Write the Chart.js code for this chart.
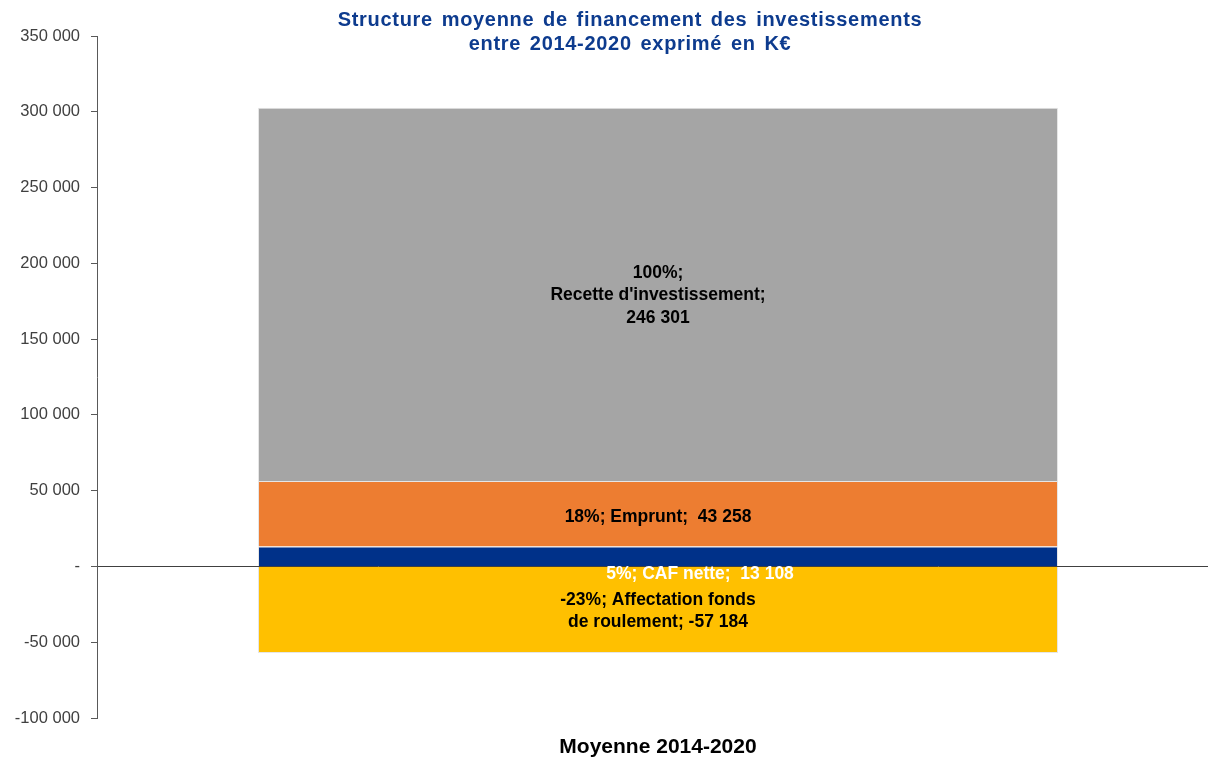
<!DOCTYPE html>
<html>
<head>
<meta charset="utf-8">
<script src="https://cdn.jsdelivr.net/npm/chart.js"></script>
<style>
  html, body { margin: 0; padding: 0; background: #fff; overflow: hidden; }
  /* plot runs a little past the right edge of the window */
  #wrap { width: 1219px; height: 757px; }
</style>
</head>
<body>
<div id="wrap"><canvas id="financement"></canvas></div>
<script>
// data
const categories = ['Moyenne 2014-2020'];
const cafNette = [13108];
const emprunt = [43258];
const recetteInvest = [246301];
const affectationFdr = [-57184];
const yMin = -100000, yMax = 350000, yStep = 50000;

const titleLines = ['Structure moyenne de financement des investissements', 'entre 2014-2020 exprimé en K€'];

// 246301 -> "246 301"
const fmt = v => (v < 0 ? '-' : '') + Math.abs(Math.round(v)).toString().replace(/\B(?=(\d{3})+(?!\d))/g, ' ');
const pct = v => Math.round(v / recetteInvest[0] * 100) + '%';

const FONT = '"Liberation Sans", Arial, sans-serif';

// label text + placement for each stacked segment
const segLabels = [
  { lines: v => [pct(v) + '; CAF nette;  ' + fmt(v)], color: '#ffffff', dx: 42, dy: 18 },
  { lines: v => [pct(v) + '; Emprunt;  ' + fmt(v)], color: '#000000', dx: 0, dy: 3 },
  { lines: v => [pct(v) + ';', "Recette d'investissement;", fmt(v)], color: '#000000', dx: 0, dy: 1 },
  { lines: v => [pct(v) + '; Affectation fonds', 'de roulement; ' + fmt(v)], color: '#000000', dx: 0, dy: 1 }
];

const barLabels = {
  id: 'barLabels',
  afterDatasetsDraw(chart) {
    const ctx = chart.ctx;
    ctx.save();
    ctx.font = 'bold 17.5px ' + FONT;
    ctx.textAlign = 'center';
    ctx.textBaseline = 'middle';
    chart.data.datasets.forEach((ds, i) => {
      const bar = chart.getDatasetMeta(i).data[0];
      const cfg = segLabels[i];
      const lines = cfg.lines(ds.data[0]);
      const lh = 22.5;
      const cy = (bar.y + bar.base) / 2 + cfg.dy - (lines.length - 1) * lh / 2;
      ctx.fillStyle = cfg.color;
      lines.forEach((t, k) => ctx.fillText(t, bar.x + cfg.dx, cy + k * lh));
    });
    ctx.restore();
  }
};

// title overlaps the top of the plot area, so it is drawn by hand
const topTitle = {
  id: 'topTitle',
  afterDraw(chart) {
    const ctx = chart.ctx;
    ctx.save();
    ctx.font = 'bold 20px ' + FONT;
    ctx.letterSpacing = '0.7px';
    ctx.wordSpacing = '2.5px';
    ctx.fillStyle = '#0D3B8E';
    ctx.textAlign = 'center';
    ctx.textBaseline = 'middle';
    ctx.fillText(titleLines[0], 630, 20);
    ctx.fillText(titleLines[1], 630, 44);
    ctx.restore();
  }
};

const data = {
  labels: categories,
  datasets: [
    { label: 'CAF nette', data: cafNette, backgroundColor: '#003189' },
    { label: 'Emprunt', data: emprunt, backgroundColor: '#ED7D31' },
    { label: "Recette d'investissement", data: recetteInvest, backgroundColor: '#A5A5A5' },
    { label: 'Affectation fonds de roulement', data: affectationFdr, backgroundColor: '#FFC000' }
  ].map(d => Object.assign(d, {
    borderColor: '#E6E6E6',
    borderWidth: 1,
    barPercentage: 0.713,
    categoryPercentage: 1
  }))
};

const config = {
  type: 'bar',
  data: data,
  options: {
    responsive: true,
    maintainAspectRatio: false,
    animation: false,
    layout: { padding: { top: 36, right: 0, bottom: 0, left: 0 } },
    plugins: {
      legend: { display: false },
      title: { display: false },
      tooltip: { enabled: false }
    },
    scales: {
      x: {
        stacked: true,
        grid: { display: false, drawTicks: false },
        border: { display: false },
        ticks: { color: '#000', padding: 17, font: { family: FONT, size: 21, weight: 'bold' } },
        afterFit: s => { s.height = 39; }
      },
      y: {
        stacked: true,
        z: 1,
        min: yMin,
        max: yMax,
        border: { display: true, color: '#595959', width: 1 },
        grid: {
          drawOnChartArea: true,
          color: c => c.tick && c.tick.value === 0 ? '#404040' : 'rgba(0,0,0,0)',
          tickColor: '#595959',
          tickLength: 6
        },
        ticks: {
          stepSize: yStep,
          padding: 11,
          color: '#404040',
          font: { family: FONT, size: 16.5 },
          callback: v => v === 0 ? '-' : fmt(v)
        },
        afterFit: s => { s.width = 97; }
      }
    }
  },
  plugins: [barLabels, topTitle]
};

const canvas = document.getElementById('financement');
const chart = new Chart(canvas, config);
</script>
</body>
</html>
